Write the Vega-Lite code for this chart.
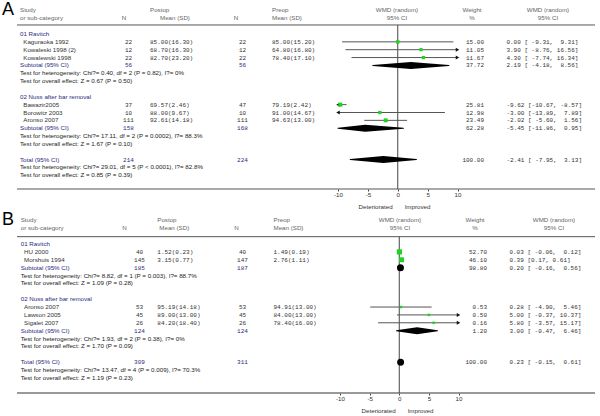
{
  "$schema": "https://vega.github.io/schema/vega-lite/v6.json",
  "background": "white",
  "padding": {"left": 2, "top": 0, "right": 0, "bottom": 0},
  "config": {"view": {"stroke": null}},
  "spacing": 21,
  "bounds": "flush",
  "datasets": {
    "ta": [
      {"r": -3, "c": 0, "t": "A", "k": "L"},
      {"r": -3, "c": 1, "t": "Study", "k": "h"},
      {"r": -2, "c": 1, "t": "or sub-category", "k": "h"},
      {"r": -2, "c": 3, "t": "N", "k": "h"},
      {"r": -3, "c": 5, "t": "Postop", "k": "h"},
      {"r": -2, "c": 6, "t": "Mean (SD)", "k": "h"},
      {"r": -2, "c": 7, "t": "N", "k": "h"},
      {"r": -3, "c": 9, "t": "Preop", "k": "h"},
      {"r": -2, "c": 9, "t": "Mean (SD)", "k": "h"},
      {"r": -3, "c": 10, "t": "WMD (random)", "k": "h"},
      {"r": -2, "c": 10, "t": "95% CI", "k": "h"},
      {"r": -3, "c": 11, "t": "Weight", "k": "h"},
      {"r": -2, "c": 11, "t": "%", "k": "h"},
      {"r": -3, "c": 14, "t": "WMD (random)", "k": "h"},
      {"r": -2, "c": 14, "t": "95% CI", "k": "h"},
      {"r": 0, "c": 1, "t": "01 Ravitch", "k": "g"},
      {"r": 1, "c": 2, "t": "Kaguraoka 1992", "k": "s"},
      {"r": 1, "c": 4, "t": "22", "k": "n"},
      {"r": 1, "c": 5, "t": "85.00(16.30)", "k": "n"},
      {"r": 1, "c": 8, "t": "22", "k": "n"},
      {"r": 1, "c": 9, "t": "85.00(15.20)", "k": "n"},
      {"r": 1, "c": 12, "t": "15.00", "k": "n"},
      {"r": 1, "c": 13, "t": "\u00a00.00 [\u00a0-9.31, \u00a09.31]", "k": "n"},
      {"r": 2, "c": 2, "t": "Kowaleski 1998 (2)", "k": "s"},
      {"r": 2, "c": 4, "t": "12", "k": "n"},
      {"r": 2, "c": 5, "t": "68.70(16.30)", "k": "n"},
      {"r": 2, "c": 8, "t": "12", "k": "n"},
      {"r": 2, "c": 9, "t": "64.80(16.80)", "k": "n"},
      {"r": 2, "c": 12, "t": "11.05", "k": "n"},
      {"r": 2, "c": 13, "t": "\u00a03.90 [\u00a0-8.76, 16.56]", "k": "n"},
      {"r": 3, "c": 2, "t": "Kowalewski 1998", "k": "s"},
      {"r": 3, "c": 4, "t": "22", "k": "n"},
      {"r": 3, "c": 5, "t": "82.70(23.20)", "k": "n"},
      {"r": 3, "c": 8, "t": "22", "k": "n"},
      {"r": 3, "c": 9, "t": "78.40(17.10)", "k": "n"},
      {"r": 3, "c": 12, "t": "11.67", "k": "n"},
      {"r": 3, "c": 13, "t": "\u00a04.30 [\u00a0-7.74, 16.34]", "k": "n"},
      {"r": 4, "c": 1, "t": "Subtotal (95% CI)", "k": "g"},
      {"r": 4, "c": 4, "t": "56", "k": "sn"},
      {"r": 4, "c": 8, "t": "56", "k": "sn"},
      {"r": 4, "c": 12, "t": "37.72", "k": "n"},
      {"r": 4, "c": 13, "t": "\u00a02.19 [\u00a0-4.18, \u00a08.56]", "k": "n"},
      {"r": 5, "c": 1, "t": "Test for heterogeneity: Chi?= 0.40, df = 2 (P = 0.82), I?= 0%", "k": "t"},
      {"r": 6, "c": 1, "t": "Test for overall effect: Z = 0.67 (P = 0.50)", "k": "t"},
      {"r": 8, "c": 1, "t": "02 Nuss after bar removal", "k": "g"},
      {"r": 9, "c": 2, "t": "Bawazir2005", "k": "s"},
      {"r": 9, "c": 4, "t": "37", "k": "n"},
      {"r": 9, "c": 5, "t": "69.57(2.46)", "k": "n"},
      {"r": 9, "c": 8, "t": "47", "k": "n"},
      {"r": 9, "c": 9, "t": "79.19(2.42)", "k": "n"},
      {"r": 9, "c": 12, "t": "25.81", "k": "n"},
      {"r": 9, "c": 13, "t": "-9.62 [-10.67, -8.57]", "k": "n"},
      {"r": 10, "c": 2, "t": "Borowitz 2003", "k": "s"},
      {"r": 10, "c": 4, "t": "10", "k": "n"},
      {"r": 10, "c": 5, "t": "88.00(9.67)", "k": "n"},
      {"r": 10, "c": 8, "t": "10", "k": "n"},
      {"r": 10, "c": 9, "t": "91.00(14.67)", "k": "n"},
      {"r": 10, "c": 12, "t": "12.98", "k": "n"},
      {"r": 10, "c": 13, "t": "-3.00 [-13.89, \u00a07.89]", "k": "n"},
      {"r": 11, "c": 2, "t": "Aronso 2007", "k": "s"},
      {"r": 11, "c": 4, "t": "111", "k": "n"},
      {"r": 11, "c": 5, "t": "92.61(14.18)", "k": "n"},
      {"r": 11, "c": 8, "t": "111", "k": "n"},
      {"r": 11, "c": 9, "t": "94.63(13.00)", "k": "n"},
      {"r": 11, "c": 12, "t": "23.49", "k": "n"},
      {"r": 11, "c": 13, "t": "-2.02 [\u00a0-5.60, \u00a01.56]", "k": "n"},
      {"r": 12, "c": 1, "t": "Subtotal (95% CI)", "k": "g"},
      {"r": 12, "c": 4, "t": "158", "k": "sn"},
      {"r": 12, "c": 8, "t": "168", "k": "sn"},
      {"r": 12, "c": 12, "t": "62.28", "k": "n"},
      {"r": 12, "c": 13, "t": "-5.45 [-11.86, \u00a00.95]", "k": "n"},
      {"r": 13, "c": 1, "t": "Test for heterogeneity: Chi?= 17.11, df = 2 (P = 0.0002), I?= 88.3%", "k": "t"},
      {"r": 14, "c": 1, "t": "Test for overall effect: Z = 1.67 (P = 0.10)", "k": "t"},
      {"r": 16, "c": 1, "t": "Total (95% CI)", "k": "g"},
      {"r": 16, "c": 4, "t": "214", "k": "sn"},
      {"r": 16, "c": 8, "t": "224", "k": "sn"},
      {"r": 16, "c": 12, "t": "100.00", "k": "n"},
      {"r": 16, "c": 13, "t": "-2.41 [\u00a0-7.95, \u00a03.13]", "k": "n"},
      {"r": 17, "c": 1, "t": "Test for heterogeneity: Chi?= 29.01, df = 5 (P < 0.0001), I?= 82.8%", "k": "t"},
      {"r": 18, "c": 1, "t": "Test for overall effect: Z = 0.85 (P = 0.39)", "k": "t"}
    ],
    "fa": [
      {"r": 1, "type": "s", "est": 0.0, "lo": -9.31, "hi": 9.31, "w": 15.0},
      {"r": 2, "type": "s", "est": 3.9, "lo": -8.76, "hi": 16.56, "w": 11.05},
      {"r": 3, "type": "s", "est": 4.3, "lo": -7.74, "hi": 16.34, "w": 11.67},
      {"r": 4, "type": "p", "est": 2.19, "lo": -4.18, "hi": 8.56, "w": 37.72},
      {"r": 9, "type": "s", "est": -9.62, "lo": -10.67, "hi": -8.57, "w": 25.81},
      {"r": 10, "type": "s", "est": -3.0, "lo": -13.89, "hi": 7.89, "w": 12.98},
      {"r": 11, "type": "s", "est": -2.02, "lo": -5.6, "hi": 1.56, "w": 23.49},
      {"r": 12, "type": "p", "est": -5.45, "lo": -11.86, "hi": 0.95, "w": 62.28},
      {"r": 16, "type": "p", "est": -2.41, "lo": -7.95, "hi": 3.13, "w": 100}
    ],
    "tb": [
      {"r": -3, "c": 0, "t": "B", "k": "L"},
      {"r": -3, "c": 1, "t": "Study", "k": "h"},
      {"r": -2, "c": 1, "t": "or sub-category", "k": "h"},
      {"r": -2, "c": 3, "t": "N", "k": "h"},
      {"r": -3, "c": 5, "t": "Postop", "k": "h"},
      {"r": -2, "c": 6, "t": "Mean (SD)", "k": "h"},
      {"r": -2, "c": 7, "t": "N", "k": "h"},
      {"r": -3, "c": 9, "t": "Preop", "k": "h"},
      {"r": -2, "c": 9, "t": "Mean (SD)", "k": "h"},
      {"r": -3, "c": 10, "t": "WMD (random)", "k": "h"},
      {"r": -2, "c": 10, "t": "95% CI", "k": "h"},
      {"r": -3, "c": 11, "t": "Weight", "k": "h"},
      {"r": -2, "c": 11, "t": "%", "k": "h"},
      {"r": -3, "c": 14, "t": "WMD (random)", "k": "h"},
      {"r": -2, "c": 14, "t": "95% CI", "k": "h"},
      {"r": 0, "c": 1, "t": "01 Ravitch", "k": "g"},
      {"r": 1, "c": 2, "t": "HU 2000", "k": "s"},
      {"r": 1, "c": 4, "t": "40", "k": "n"},
      {"r": 1, "c": 5, "t": "1.52(0.23)", "k": "n"},
      {"r": 1, "c": 8, "t": "40", "k": "n"},
      {"r": 1, "c": 9, "t": "1.49(0.19)", "k": "n"},
      {"r": 1, "c": 12, "t": "52.70", "k": "n"},
      {"r": 1, "c": 13, "t": "\u00a00.03 [\u00a0-0.06, \u00a00.12]", "k": "n"},
      {"r": 2, "c": 2, "t": "Morshuis 1994", "k": "s"},
      {"r": 2, "c": 4, "t": "145", "k": "n"},
      {"r": 2, "c": 5, "t": "3.15(0.77)", "k": "n"},
      {"r": 2, "c": 8, "t": "147", "k": "n"},
      {"r": 2, "c": 9, "t": "2.76(1.11)", "k": "n"},
      {"r": 2, "c": 12, "t": "46.10", "k": "n"},
      {"r": 2, "c": 13, "t": "\u00a00.39 [0.17, 0.61]", "k": "n"},
      {"r": 3, "c": 1, "t": "Subtotal (95% CI)", "k": "g"},
      {"r": 3, "c": 4, "t": "185", "k": "sn"},
      {"r": 3, "c": 8, "t": "187", "k": "sn"},
      {"r": 3, "c": 12, "t": "98.80", "k": "n"},
      {"r": 3, "c": 13, "t": "\u00a00.20 [\u00a0-0.16, \u00a00.56]", "k": "n"},
      {"r": 4, "c": 1, "t": "Test for heterogeneity: Chi?= 8.82, df = 1 (P = 0.003), I?= 88.7%", "k": "t"},
      {"r": 5, "c": 1, "t": "Test for overall effect: Z = 1.09 (P = 0.28)", "k": "t"},
      {"r": 7, "c": 1, "t": "02 Nuss after bar removal", "k": "g"},
      {"r": 8, "c": 2, "t": "Aronso 2007", "k": "s"},
      {"r": 8, "c": 4, "t": "53", "k": "n"},
      {"r": 8, "c": 5, "t": "95.19(14.18)", "k": "n"},
      {"r": 8, "c": 8, "t": "53", "k": "n"},
      {"r": 8, "c": 9, "t": "94.91(13.00)", "k": "n"},
      {"r": 8, "c": 12, "t": "0.53", "k": "n"},
      {"r": 8, "c": 13, "t": "\u00a00.28 [\u00a0-4.90, \u00a05.46]", "k": "n"},
      {"r": 9, "c": 2, "t": "Lawson 2005", "k": "s"},
      {"r": 9, "c": 4, "t": "45", "k": "n"},
      {"r": 9, "c": 5, "t": "89.00(13.00)", "k": "n"},
      {"r": 9, "c": 8, "t": "45", "k": "n"},
      {"r": 9, "c": 9, "t": "84.00(13.00)", "k": "n"},
      {"r": 9, "c": 12, "t": "0.50", "k": "n"},
      {"r": 9, "c": 13, "t": "\u00a05.00 [\u00a0-0.37, 10.37]", "k": "n"},
      {"r": 10, "c": 2, "t": "Sigalet 2007", "k": "s"},
      {"r": 10, "c": 4, "t": "26", "k": "n"},
      {"r": 10, "c": 5, "t": "84.20(18.40)", "k": "n"},
      {"r": 10, "c": 8, "t": "26", "k": "n"},
      {"r": 10, "c": 9, "t": "78.40(16.00)", "k": "n"},
      {"r": 10, "c": 12, "t": "0.16", "k": "n"},
      {"r": 10, "c": 13, "t": "\u00a05.80 [\u00a0-3.57, 15.17]", "k": "n"},
      {"r": 11, "c": 1, "t": "Subtotal (95% CI)", "k": "g"},
      {"r": 11, "c": 4, "t": "124", "k": "sn"},
      {"r": 11, "c": 8, "t": "124", "k": "sn"},
      {"r": 11, "c": 12, "t": "1.20", "k": "n"},
      {"r": 11, "c": 13, "t": "\u00a03.00 [\u00a0-0.47, \u00a06.46]", "k": "n"},
      {"r": 12, "c": 1, "t": "Test for heterogeneity: Chi?= 1.93, df = 2 (P = 0.38), I?= 0%", "k": "t"},
      {"r": 13, "c": 1, "t": "Test for overall effect: Z = 1.70 (P = 0.09)", "k": "t"},
      {"r": 15, "c": 1, "t": "Total (95% CI)", "k": "g"},
      {"r": 15, "c": 4, "t": "309", "k": "sn"},
      {"r": 15, "c": 8, "t": "311", "k": "sn"},
      {"r": 15, "c": 12, "t": "100.00", "k": "n"},
      {"r": 15, "c": 13, "t": "\u00a00.23 [\u00a0-0.15, \u00a00.61]", "k": "n"},
      {"r": 16, "c": 1, "t": "Test for heterogeneity: Chi?= 13.47, df = 4 (P = 0.009), I?= 70.3%", "k": "t"},
      {"r": 17, "c": 1, "t": "Test for overall effect: Z = 1.19 (P = 0.23)", "k": "t"}
    ],
    "fb": [
      {"r": 1, "type": "s", "est": 0.03, "lo": -0.06, "hi": 0.12, "w": 52.7},
      {"r": 2, "type": "s", "est": 0.39, "lo": 0.17, "hi": 0.61, "w": 46.1},
      {"r": 3, "type": "p", "est": 0.2, "lo": -0.16, "hi": 0.56, "w": 98.8},
      {"r": 8, "type": "s", "est": 0.28, "lo": -4.9, "hi": 5.46, "w": 0.53},
      {"r": 9, "type": "s", "est": 5.0, "lo": -0.37, "hi": 10.37, "w": 0.5},
      {"r": 10, "type": "s", "est": 5.8, "lo": -3.57, "hi": 15.17, "w": 0.16},
      {"r": 11, "type": "p", "est": 3.0, "lo": -0.47, "hi": 6.46, "w": 1.2},
      {"r": 15, "type": "p", "est": 0.23, "lo": -0.15, "hi": 0.61, "w": 100}
    ]
  },
  "vconcat": [
    {
      "width": 578,
      "height": 189,
      "resolve": {"scale": {"x": "independent"}},
      "layer": [
        {"data": {"values": [{}]}, "mark": {"type": "rule", "color": "#555555", "strokeWidth": 1},
          "encoding": {"y": {"datum": -1.15, "type": "quantitative", "scale": {"domain": [-4.331, 19.745], "reverse": true, "nice": false, "zero": false}, "axis": null}}},
        {"data": {"values": [{}]}, "mark": {"type": "rule", "color": "#555555", "strokeWidth": 1.2},
          "encoding": {"y": {"datum": 19.745, "type": "quantitative", "scale": {"domain": [-4.331, 19.745], "reverse": true, "nice": false, "zero": false}, "axis": null}}},
        {
          "data": {"name": "ta"},
          "encoding": {
            "x": {"field": "c", "type": "quantitative", "scale": {"domain": [0,1,2,3,4,5,6,7,8,9,10,11,12,13,14], "range": [-15, 3, 6.3, 107, 111.5, 133, 143, 219, 225.5, 255, 380, 455, 467, 489.4, 531], "nice": false, "zero": false}, "axis": null},
            "y": {"field": "r", "type": "quantitative", "scale": {"domain": [-4.331, 19.745], "reverse": true, "nice": false, "zero": false}, "axis": null},
            "text": {"field": "t"},
            "color": {"field": "k", "type": "nominal", "scale": {"domain": ["h","g","s","t","n","sn","L"], "range": ["#666666","#2b2b80","#333333","#222222","#333333","#2b2b80","#000000"]}, "legend": null}
          },
          "layer": [
            {"transform": [{"filter": "datum.k!='n' && datum.k!='sn' && datum.k!='L' && indexof([1,2,5,6,9], datum.c) >= 0"}], "mark": {"type": "text", "align": "left", "baseline": "middle", "font": "Liberation Sans", "fontSize": 6.2}},
            {"transform": [{"filter": "datum.k=='h' && indexof([3,7,10,11,14], datum.c) >= 0"}], "mark": {"type": "text", "align": "center", "baseline": "middle", "font": "Liberation Sans", "fontSize": 6.2}},
            {"transform": [{"filter": "datum.c==4 || datum.c==8"}], "mark": {"type": "text", "align": "center", "baseline": "middle", "font": "Liberation Mono", "fontSize": 6}},
            {"transform": [{"filter": "(datum.k=='n' || datum.k=='sn') && indexof([5,9,13], datum.c) >= 0"}], "mark": {"type": "text", "align": "left", "baseline": "middle", "font": "Liberation Mono", "fontSize": 6}},
            {"transform": [{"filter": "datum.c==12"}], "mark": {"type": "text", "align": "right", "baseline": "middle", "font": "Liberation Mono", "fontSize": 6}},
            {"transform": [{"filter": "datum.k=='L'"}], "mark": {"type": "text", "align": "left", "baseline": "middle", "font": "Liberation Sans", "fontSize": 18}}
          ]
        },
        {
          "layer": [
            {
              "data": {"values": [{}]},
              "mark": {"type": "rule", "color": "#444444", "strokeWidth": 1},
              "encoding": {
                "x": {"datum": 0, "type": "quantitative", "scale": {"domain": [-10, 10], "range": [321, 440.5], "clamp": true, "nice": false, "zero": false},
                  "axis": {"orient": "bottom", "values": [-10, -5, 0, 5, 10], "labelExpr": "'' + datum.value", "domain": false, "grid": false, "ticks": true, "tickSize": 2, "tickColor": "#444444", "labelFont": "Liberation Sans", "labelFontSize": 6.2, "labelColor": "#333333", "labelPadding": 0, "labelFlush": false, "labelOverlap": false,
                    "title": "Deteriorated\u00a0\u00a0\u00a0\u00a0\u00a0\u00a0\u00a0Improved", "titleFont": "Liberation Sans", "titleFontSize": 6.2, "titleFontWeight": "normal", "titleColor": "#333333", "titleX": 377, "titleY": 17, "titleBaseline": "middle", "titleAlign": "center"}},
                "y": {"datum": -1.15, "type": "quantitative", "scale": {"domain": [-4.331, 19.745], "reverse": true, "nice": false, "zero": false}, "axis": null},
                "y2": {"datum": 19.745}
              }
            },
            {
              "data": {"name": "fa"},
              "transform": [{"filter": "datum.type=='s'"}],
              "mark": {"type": "rule", "color": "#555555", "strokeWidth": 1},
              "encoding": {
                "x": {"field": "lo", "type": "quantitative", "scale": {"domain": [-10, 10], "range": [321, 440.5], "clamp": true, "nice": false, "zero": false}},
                "x2": {"field": "hi"},
                "y": {"field": "r", "type": "quantitative", "scale": {"domain": [-4.331, 19.745], "reverse": true, "nice": false, "zero": false}, "axis": null}
              }
            },
            {
              "data": {"name": "fa"},
              "transform": [{"filter": "datum.type=='s' && datum.hi > 10"}],
              "mark": {"type": "point", "shape": "triangle-right", "filled": true, "color": "#111111", "opacity": 1, "size": 16},
              "encoding": {
                "x": {"field": "hi", "type": "quantitative", "scale": {"domain": [-10, 10], "range": [321, 440.5], "clamp": true, "nice": false, "zero": false}},
                "y": {"field": "r", "type": "quantitative", "scale": {"domain": [-4.331, 19.745], "reverse": true, "nice": false, "zero": false}, "axis": null}
              }
            },
            {
              "data": {"name": "fa"},
              "transform": [{"filter": "datum.type=='s' && datum.lo < -10"}],
              "mark": {"type": "point", "shape": "triangle-left", "filled": true, "color": "#111111", "opacity": 1, "size": 16},
              "encoding": {
                "x": {"field": "lo", "type": "quantitative", "scale": {"domain": [-10, 10], "range": [321, 440.5], "clamp": true, "nice": false, "zero": false}},
                "y": {"field": "r", "type": "quantitative", "scale": {"domain": [-4.331, 19.745], "reverse": true, "nice": false, "zero": false}, "axis": null}
              }
            },
            {
              "data": {"name": "fa"},
              "transform": [{"filter": "datum.type=='s'"}],
              "mark": {"type": "square", "color": "#1ed41e", "opacity": 1},
              "encoding": {
                "x": {"field": "est", "type": "quantitative", "scale": {"domain": [-10, 10], "range": [321, 440.5], "clamp": true, "nice": false, "zero": false}},
                "y": {"field": "r", "type": "quantitative", "scale": {"domain": [-4.331, 19.745], "reverse": true, "nice": false, "zero": false}, "axis": null},
                "size": {"field": "w", "type": "quantitative", "scale": {"domain": [0, 55], "range": [6, 28]}, "legend": null}
              }
            },
            {
              "data": {"name": "fa"},
              "transform": [{"filter": "datum.type=='p'"}, {"fold": ["lo", "est", "hi"], "as": ["key", "val"]}],
              "mark": {"type": "trail", "color": "#000000"},
              "encoding": {
                "x": {"field": "val", "type": "quantitative", "scale": {"domain": [-10, 10], "range": [321, 440.5], "clamp": true, "nice": false, "zero": false}},
                "y": {"field": "r", "type": "quantitative", "scale": {"domain": [-4.331, 19.745], "reverse": true, "nice": false, "zero": false}, "axis": null},
                "detail": {"field": "r", "type": "nominal"},
                "order": {"field": "val", "type": "quantitative"},
                "size": {"condition": {"test": "datum.key=='est'", "value": 7}, "value": 0}
              }
            }
          ]
        }
      ]
    },
    {
      "width": 578,
      "height": 183,
      "resolve": {"scale": {"x": "independent"}},
      "layer": [
        {"data": {"values": [{}]}, "mark": {"type": "rule", "color": "#555555", "strokeWidth": 1},
          "encoding": {"y": {"datum": -0.93, "type": "quantitative", "scale": {"domain": [-4.315, 18.91], "reverse": true, "nice": false, "zero": false}, "axis": null}}},
        {"data": {"values": [{}]}, "mark": {"type": "rule", "color": "#777777", "strokeWidth": 1.5},
          "encoding": {"y": {"datum": 18.91, "type": "quantitative", "scale": {"domain": [-4.315, 18.91], "reverse": true, "nice": false, "zero": false}, "axis": null}}},
        {
          "data": {"name": "tb"},
          "encoding": {
            "x": {"field": "c", "type": "quantitative", "scale": {"domain": [0,1,2,3,4,5,6,7,8,9,10,11,12,13,14], "range": [-15, 3.7, 7, 107.5, 122.5, 140.3, 142.3, 219.5, 225.5, 256.5, 383, 458, 470, 492.4, 537], "nice": false, "zero": false}, "axis": null},
            "y": {"field": "r", "type": "quantitative", "scale": {"domain": [-4.315, 18.91], "reverse": true, "nice": false, "zero": false}, "axis": null},
            "text": {"field": "t"},
            "color": {"field": "k", "type": "nominal", "scale": {"domain": ["h","g","s","t","n","sn","L"], "range": ["#666666","#2b2b80","#333333","#222222","#333333","#2b2b80","#000000"]}, "legend": null}
          },
          "layer": [
            {"transform": [{"filter": "datum.k!='n' && datum.k!='sn' && datum.k!='L' && indexof([1,2,5,6,9], datum.c) >= 0"}], "mark": {"type": "text", "align": "left", "baseline": "middle", "font": "Liberation Sans", "fontSize": 6.2}},
            {"transform": [{"filter": "datum.k=='h' && indexof([3,7,10,11,14], datum.c) >= 0"}], "mark": {"type": "text", "align": "center", "baseline": "middle", "font": "Liberation Sans", "fontSize": 6.2}},
            {"transform": [{"filter": "datum.c==4 || datum.c==8"}], "mark": {"type": "text", "align": "center", "baseline": "middle", "font": "Liberation Mono", "fontSize": 6}},
            {"transform": [{"filter": "(datum.k=='n' || datum.k=='sn') && indexof([5,9,13], datum.c) >= 0"}], "mark": {"type": "text", "align": "left", "baseline": "middle", "font": "Liberation Mono", "fontSize": 6}},
            {"transform": [{"filter": "datum.c==12"}], "mark": {"type": "text", "align": "right", "baseline": "middle", "font": "Liberation Mono", "fontSize": 6}},
            {"transform": [{"filter": "datum.k=='L'"}], "mark": {"type": "text", "align": "left", "baseline": "middle", "font": "Liberation Sans", "fontSize": 18}}
          ]
        },
        {
          "layer": [
            {
              "data": {"values": [{}]},
              "mark": {"type": "rule", "color": "#444444", "strokeWidth": 1},
              "encoding": {
                "x": {"datum": 0, "type": "quantitative", "scale": {"domain": [-10, 10], "range": [323, 441.5], "clamp": true, "nice": false, "zero": false},
                  "axis": {"orient": "bottom", "values": [-10, -5, 0, 5, 10], "labelExpr": "'' + datum.value", "domain": false, "grid": false, "ticks": true, "tickSize": 2, "tickColor": "#444444", "labelFont": "Liberation Sans", "labelFontSize": 6.2, "labelColor": "#333333", "labelPadding": 0, "labelFlush": false, "labelOverlap": false,
                    "title": "Deteriorated\u00a0\u00a0\u00a0\u00a0\u00a0\u00a0\u00a0Improved", "titleFont": "Liberation Sans", "titleFontSize": 6.2, "titleFontWeight": "normal", "titleColor": "#333333", "titleX": 380, "titleY": 17, "titleBaseline": "middle", "titleAlign": "center"}},
                "y": {"datum": -0.93, "type": "quantitative", "scale": {"domain": [-4.315, 18.91], "reverse": true, "nice": false, "zero": false}, "axis": null},
                "y2": {"datum": 18.91}
              }
            },
            {
              "data": {"name": "fb"},
              "transform": [{"filter": "datum.type=='s'"}],
              "mark": {"type": "rule", "color": "#555555", "strokeWidth": 1},
              "encoding": {
                "x": {"field": "lo", "type": "quantitative", "scale": {"domain": [-10, 10], "range": [323, 441.5], "clamp": true, "nice": false, "zero": false}},
                "x2": {"field": "hi"},
                "y": {"field": "r", "type": "quantitative", "scale": {"domain": [-4.315, 18.91], "reverse": true, "nice": false, "zero": false}, "axis": null}
              }
            },
            {
              "data": {"name": "fb"},
              "transform": [{"filter": "datum.type=='s' && datum.hi > 10"}],
              "mark": {"type": "point", "shape": "triangle-right", "filled": true, "color": "#111111", "opacity": 1, "size": 16},
              "encoding": {
                "x": {"field": "hi", "type": "quantitative", "scale": {"domain": [-10, 10], "range": [323, 441.5], "clamp": true, "nice": false, "zero": false}},
                "y": {"field": "r", "type": "quantitative", "scale": {"domain": [-4.315, 18.91], "reverse": true, "nice": false, "zero": false}, "axis": null}
              }
            },
            {
              "data": {"name": "fb"},
              "transform": [{"filter": "datum.type=='s'"}],
              "mark": {"type": "square", "color": "#1ed41e", "opacity": 1},
              "encoding": {
                "x": {"field": "est", "type": "quantitative", "scale": {"domain": [-10, 10], "range": [323, 441.5], "clamp": true, "nice": false, "zero": false}},
                "y": {"field": "r", "type": "quantitative", "scale": {"domain": [-4.315, 18.91], "reverse": true, "nice": false, "zero": false}, "axis": null},
                "size": {"field": "w", "type": "quantitative", "scale": {"domain": [0, 55], "range": [6, 28]}, "legend": null}
              }
            },
            {
              "data": {"name": "fb"},
              "transform": [{"filter": "datum.type=='p'"}, {"fold": ["lo", "est", "hi"], "as": ["key", "val"]}],
              "mark": {"type": "trail", "color": "#000000"},
              "encoding": {
                "x": {"field": "val", "type": "quantitative", "scale": {"domain": [-10, 10], "range": [323, 441.5], "clamp": true, "nice": false, "zero": false}},
                "y": {"field": "r", "type": "quantitative", "scale": {"domain": [-4.315, 18.91], "reverse": true, "nice": false, "zero": false}, "axis": null},
                "detail": {"field": "r", "type": "nominal"},
                "order": {"field": "val", "type": "quantitative"},
                "size": {"condition": {"test": "datum.key=='est'", "value": 7}, "value": 0}
              }
            }
          ]
        }
      ]
    }
  ]
}
